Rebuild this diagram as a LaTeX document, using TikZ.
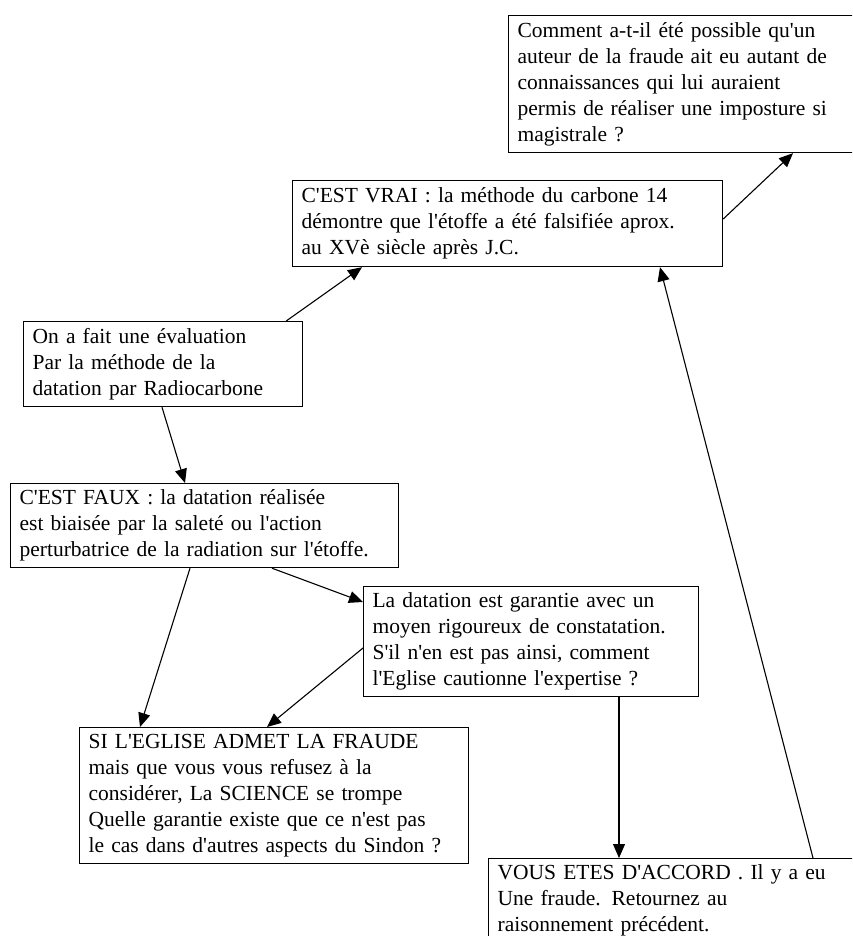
\documentclass[tikz,border=0pt]{standalone}
\usepackage{fontspec}
\setmainfont{Liberation Serif}[Ligatures=TeXOff]
\usetikzlibrary{arrows.meta}

\tikzset{
  box/.style={draw, line width=1.2pt, anchor=north west, align=left,
    inner xsep=9pt, inner ysep=4pt, font=\fontsize{21.5}{26}\selectfont},
  fleche/.style={-{Triangle[length=14pt,width=12pt]}, line width=1.1pt}
}

\begin{document}
\begin{tikzpicture}[x=1pt,y=-1pt]
  \useasboundingbox (0,0) rectangle (852,936);
  \clip (0,0) rectangle (852,936);

  % cadres
  \node[box, text width=364pt, minimum height=137pt] (A) at (508,15)
    {Comment a-t-il été possible qu'un\\ auteur de la fraude ait eu autant de\\
     connaissances qui lui auraient\\ permis de réaliser une imposture si\\ magistrale ?};
  \node[box, text width=412pt, minimum height=86pt] (B) at (292,180)
    {C'EST VRAI : la méthode du carbone 14\\ démontre que l'étoffe a été falsifiée aprox.\\
     au XVè siècle après J.C.};
  \node[box, text width=261pt, minimum height=85pt] (C) at (23,321)
    {On a fait une évaluation\\ Par la méthode de la\\ datation par Radiocarbone};
  \node[box, text width=370pt, minimum height=84pt] (D) at (10,483)
    {C'EST FAUX : la datation réalisée\\ est biaisée par la saleté ou l'action\\
     perturbatrice de la radiation sur l'étoffe.};
  \node[box, text width=317pt, minimum height=110pt] (E) at (363,586)
    {La datation est garantie avec un\\ moyen rigoureux de constatation.\\
     S'il n'en est pas ainsi, comment\\ l'Eglise cautionne l'expertise ?};
  \node[box, text width=371pt, minimum height=136pt] (F) at (79,727)
    {SI L'EGLISE ADMET LA FRAUDE\\ mais que vous vous refusez à la\\
     considérer, La SCIENCE se trompe\\ Quelle garantie existe que ce n'est pas\\
     le cas dans d'autres aspects du Sindon ?};
  \node[box, text width=384pt, minimum height=84pt] (G) at (488,858)
    {VOUS ETES D'ACCORD . Il y a eu\\ Une fraude. Retournez au\\ raisonnement précédent.};

  % fleches
  \draw[fleche] ([xshift=-17pt]C.north east) -- ([xshift=70pt]B.south west);
  \draw[fleche] ([xshift=139pt]C.south west) -- ([xshift=175pt]D.north west);
  \draw[fleche] ([xshift=180pt]D.south west) -- ([xshift=61pt]F.north west);
  \draw[fleche] ([xshift=262pt]D.south west) -- ([yshift=-16pt]E.north west);
  \draw[fleche] ([yshift=-62pt]E.north west) -- ([xshift=188pt]F.north west);
  \draw[fleche] ([xshift=256pt]E.south west) -- ([xshift=131pt]G.north west);
  \draw[fleche] ([xshift=325pt]G.north west) -- ([xshift=368pt]B.south west);
  \draw[fleche] ([yshift=-39pt]B.north east) -- ([xshift=285pt]A.south west);
\end{tikzpicture}
\end{document}
